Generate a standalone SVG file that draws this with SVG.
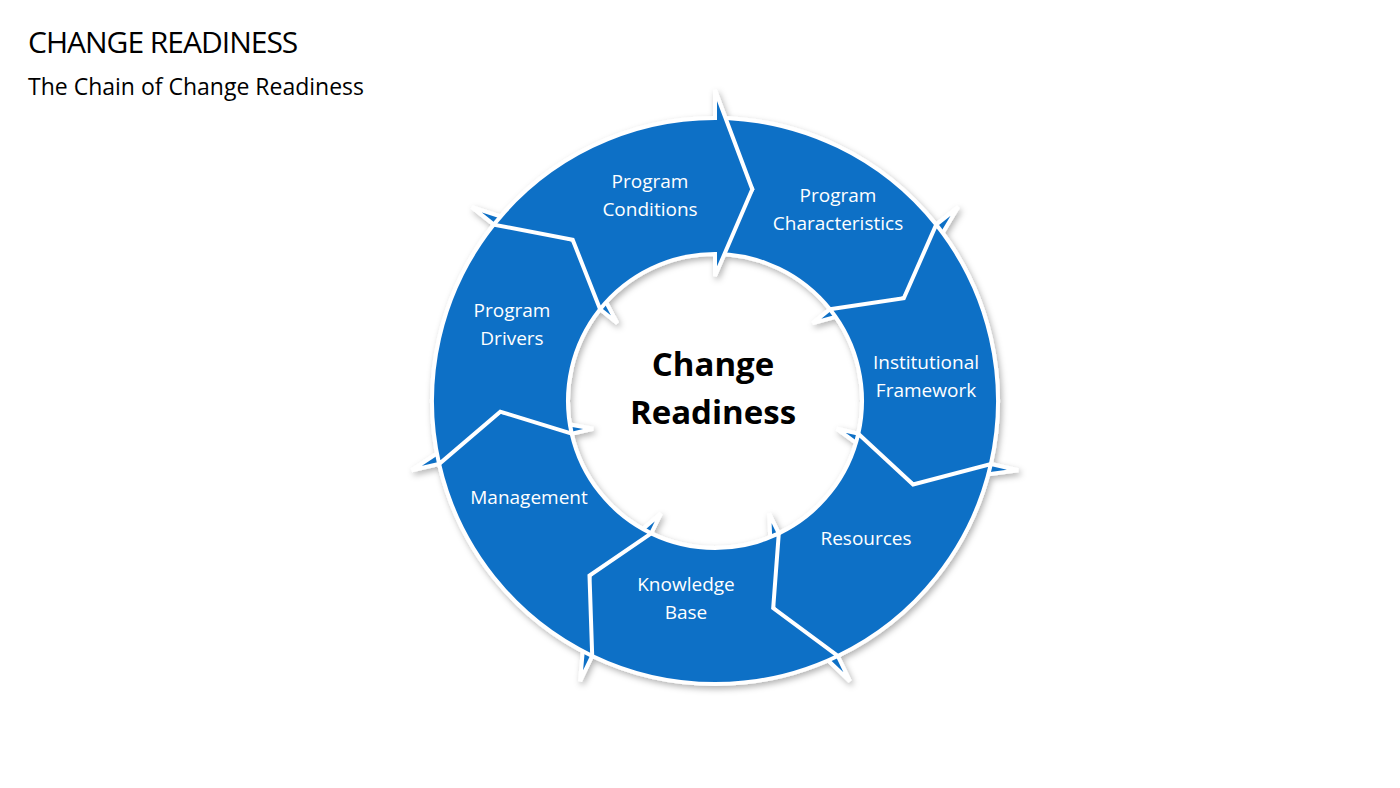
<svg xmlns="http://www.w3.org/2000/svg" width="1400" height="788" viewBox="0 0 1400 788">
<defs>
<filter id="sh" x="-20%" y="-20%" width="140%" height="140%"><feDropShadow dx="2" dy="3" stdDeviation="3" flood-color="#000" flood-opacity="0.3"/></filter>
<style>
.seg{fill:#1170C6;stroke:#fff;stroke-width:4;stroke-linejoin:miter}
.lbl{font-family:"Open Sans","Liberation Sans",sans-serif;font-size:19px;fill:#fff;text-anchor:middle}
</style>
</defs>
<rect width="1400" height="788" fill="#fff"/>
<text x="28" y="53" font-family="Open Sans,Liberation Sans,sans-serif" font-size="30" fill="#000" letter-spacing="-1">CHANGE READINESS</text>
<text x="28" y="95" font-family="Open Sans,Liberation Sans,sans-serif" font-size="23" fill="#000">The Chain of Change Readiness</text>
<g id="ring" filter="url(#sh)">
<g id="n0"><path class="seg" d="M715,254 L752.3,189.3 L715,118 A283,283 0 0 1 936.2,224.6 L958.1,207.1 L903.8,298.2 L812.7,323.1 L829.9,309.3 A147,147 0 0 0 715,254 Z"/></g>
<g id="n1"><path class="seg" d="M829.9,309.3 L903.8,298.2 L936.2,224.6 A283,283 0 0 1 990.9,464 L1018.2,470.2 L913.1,484.5 L836.9,428.8 L858.3,433.7 A147,147 0 0 0 829.9,309.3 Z"/></g>
<g id="n2"><path class="seg" d="M858.3,433.7 L913.1,484.5 L990.9,464 A283,283 0 0 1 837.8,656 L849.9,681.2 L773.2,608 L769.2,513.6 L778.8,533.4 A147,147 0 0 0 858.3,433.7 Z"/></g>
<g id="n3"><path class="seg" d="M778.8,533.4 L773.2,608 L837.8,656 A283,283 0 0 1 592.2,656 L580.1,681.2 L589.5,575.6 L660.8,513.6 L651.2,533.4 A147,147 0 0 0 778.8,533.4 Z"/></g>
<g id="n4"><path class="seg" d="M651.2,533.4 L589.5,575.6 L592.2,656 A283,283 0 0 1 439.1,464 L411.8,470.2 L500.3,411.7 L593.1,428.8 L571.7,433.7 A147,147 0 0 0 651.2,533.4 Z"/></g>
<g id="n5"><path class="seg" d="M571.7,433.7 L500.3,411.7 L439.1,464 A283,283 0 0 1 493.8,224.6 L471.9,207.1 L572.7,239.8 L617.3,323.1 L600.1,309.3 A147,147 0 0 0 571.7,433.7 Z"/></g>
<g id="n6"><path class="seg" d="M600.1,309.3 L572.7,239.8 L493.8,224.6 A283,283 0 0 1 715,118 L715,90 L752.3,189.3 L715,276 L715,254 A147,147 0 0 0 600.1,309.3 Z"/></g>
</g>
<g id="labels">
<text class="lbl" x="838" y="202">Program</text><text class="lbl" x="838" y="230">Characteristics</text>
<text class="lbl" x="926" y="369">Institutional</text><text class="lbl" x="926" y="397">Framework</text>
<text class="lbl" x="866" y="545">Resources</text>
<text class="lbl" x="686" y="591">Knowledge</text><text class="lbl" x="686" y="619">Base</text>
<text class="lbl" x="529" y="504">Management</text>
<text class="lbl" x="512" y="317">Program</text><text class="lbl" x="512" y="345">Drivers</text>
<text class="lbl" x="650" y="188">Program</text><text class="lbl" x="650" y="216">Conditions</text>
</g>
<g id="center"><text x="713" y="376" font-family="Open Sans,Liberation Sans,sans-serif" font-size="33" font-weight="bold" text-anchor="middle">Change</text><text x="713" y="424" font-family="Open Sans,Liberation Sans,sans-serif" font-size="33" font-weight="bold" text-anchor="middle">Readiness</text></g>
<g id="connectors"/>
</svg>
